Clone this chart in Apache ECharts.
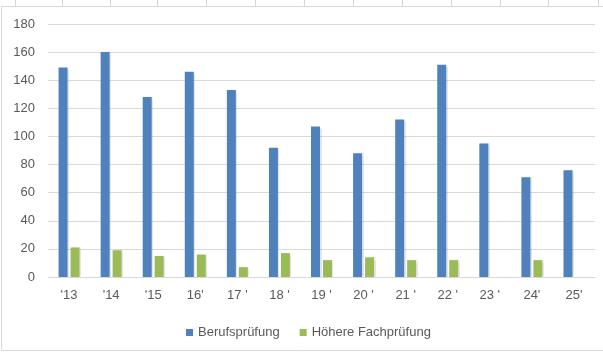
<!DOCTYPE html>
<html>
<head>
<meta charset="utf-8">
<script src="https://cdn.jsdelivr.net/npm/echarts@6/dist/echarts.min.js"></script>
<style>
  html, body { margin: 0; padding: 0; background: #fff; }
</style>
</head>
<body>
<div id="main" style="width:603px; height:352px"></div>
<script>
// chart data
const years = ["'13", "'14", "'15", "16'", "17 '", "18 '", "19 '", "20 '", "21 '", "22 '", "23 '", "24'", "25'"]
const berufspruefung = [149, 160, 128, 146, 133, 92, 107, 88, 112, 151, 95, 71, 76]
const hoehereFach = [21, 19, 15, 16, 7, 17, 12, 14, 12, 12, null, 12, null]
const yTicks = { min: 0, max: 180, step: 20 }

// spreadsheet cell lines peeking above the chart frame
const cellCols = [15, 62, 110, 157, 206, 255, 304, 353, 402, 451, 500, 548, 598]

const font = 'Liberation Sans, Arial, sans-serif'
const textColor = '#595959'

const chart = echarts.init(document.getElementById('main'))

const decor = cellCols.map(x => ({
  type: 'line',
  shape: { x1: x + 0.5, y1: 0, x2: x + 0.5, y2: 6 },
  style: { stroke: '#d4d4d4', lineWidth: 1 },
  silent: true
}))
decor.push({
  type: 'rect',
  shape: { x: 1.5, y: 6.5, width: 603, height: 344 },
  style: { fill: 'none', stroke: '#d9d9d9', lineWidth: 1 },
  silent: true
})

const barShadow = {
  shadowColor: 'rgba(0,0,0,0.10)',
  shadowBlur: 1,
  shadowOffsetX: 1.5,
  shadowOffsetY: 0
}

const option = {
  animation: false,
  textStyle: { fontFamily: font },
  graphic: decor,
  grid: {
    left: 48,
    right: 8,
    top: 24,
    bottom: 75
  },
  legend: {
    top: 321,
    left: 181,
    itemWidth: 7,
    itemHeight: 7,
    itemGap: 20,
    icon: 'rect',
    textStyle: { color: textColor, fontSize: 13, fontFamily: font },
    data: ['Berufsprüfung', 'Höhere Fachprüfung']
  },
  xAxis: {
    type: 'category',
    data: years,
    axisTick: { show: false },
    axisLine: { lineStyle: { color: '#d9d9d9', width: 1 } },
    axisLabel: { color: textColor, fontSize: 13, margin: 12 }
  },
  yAxis: {
    type: 'value',
    min: yTicks.min,
    max: yTicks.max,
    interval: yTicks.step,
    axisLine: { show: false },
    axisTick: { show: false },
    axisLabel: { color: textColor, fontSize: 13, margin: 13 },
    splitLine: { lineStyle: { color: '#d9d9d9', width: 1 } }
  },
  series: [
    {
      name: 'Berufsprüfung',
      type: 'bar',
      data: berufspruefung,
      barWidth: 9,
      barGap: '33%',
      itemStyle: Object.assign({ color: '#4f81bd' }, barShadow)
    },
    {
      name: 'Höhere Fachprüfung',
      type: 'bar',
      data: hoehereFach,
      barWidth: 9,
      itemStyle: Object.assign({ color: '#9bbb59' }, barShadow)
    }
  ]
}

chart.setOption(option)
</script>
</body>
</html>
